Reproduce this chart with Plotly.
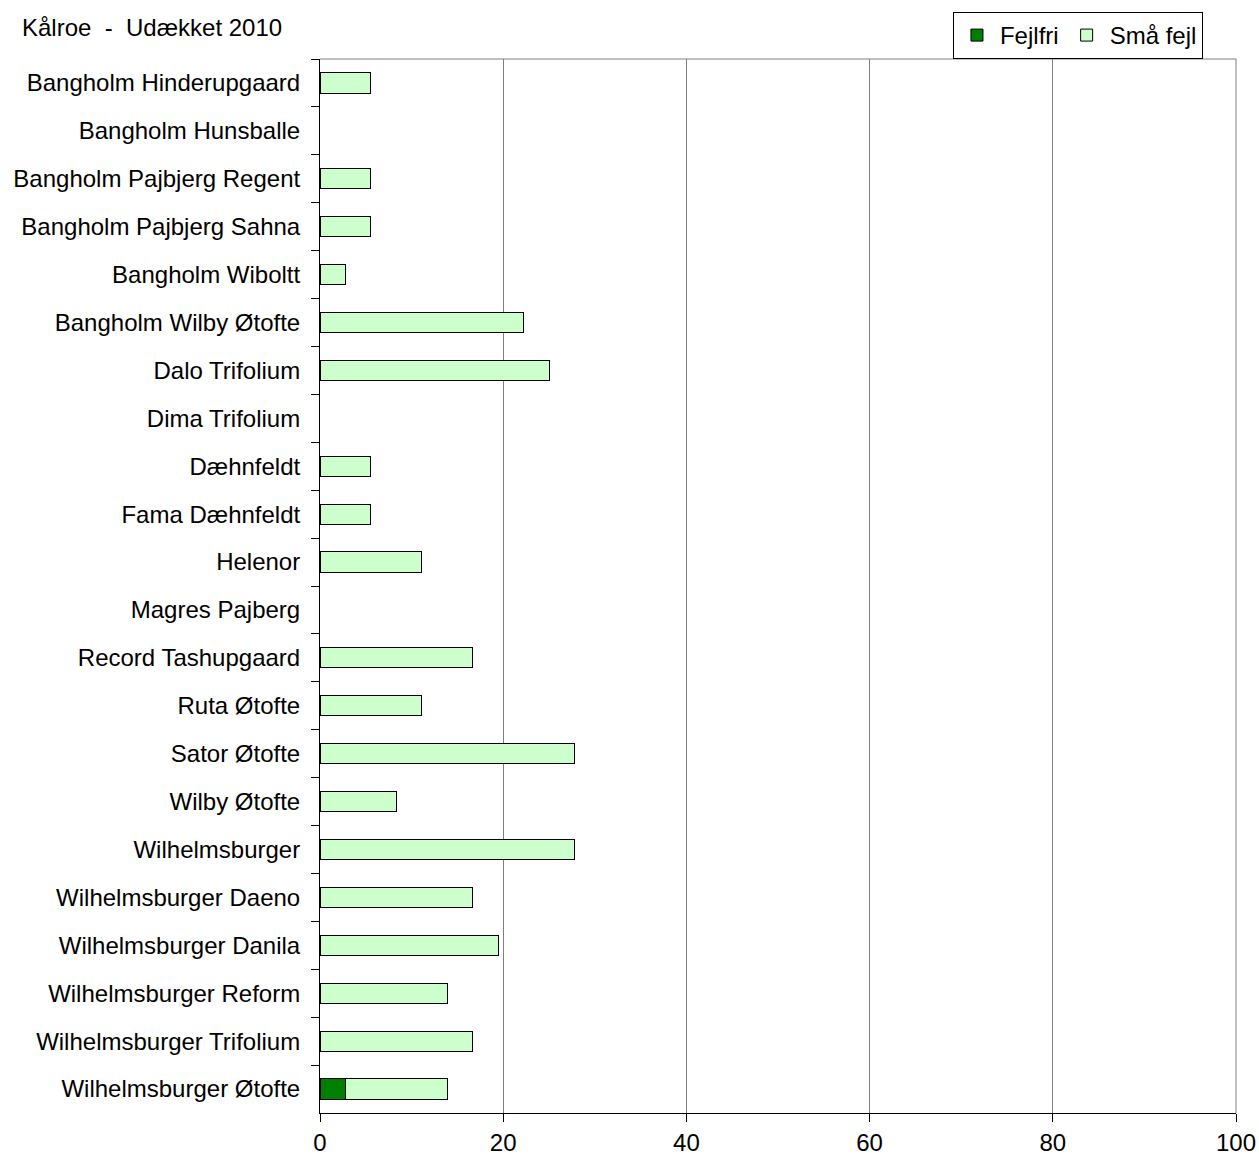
import plotly.graph_objects as go

categories = [
    "Bangholm Hinderupgaard", "Bangholm Hunsballe", "Bangholm Pajbjerg Regent",
    "Bangholm Pajbjerg Sahna", "Bangholm Wiboltt", "Bangholm Wilby Øtofte",
    "Dalo Trifolium", "Dima Trifolium", "Dæhnfeldt", "Fama Dæhnfeldt", "Helenor",
    "Magres Pajberg", "Record Tashupgaard", "Ruta Øtofte", "Sator Øtofte",
    "Wilby Øtofte", "Wilhelmsburger", "Wilhelmsburger Daeno",
    "Wilhelmsburger Danila", "Wilhelmsburger Reform", "Wilhelmsburger Trifolium",
    "Wilhelmsburger Øtofte",
]
fejlfri = [0, 0, 0, 0, 0, 0, 0, 0, 0, 0, 0, 0, 0, 0, 0, 0, 0, 0, 0, 0, 0, 2.78]
smaa_fejl = [5.56, 0, 5.56, 5.56, 2.78, 22.22, 25.0, 0, 5.56, 5.56, 11.11, 0,
             16.67, 11.11, 27.78, 8.33, 27.78, 16.67, 19.44, 13.89, 16.67, 11.11]
x_ticks = [0, 20, 40, 60, 80, 100]

FONT = "Liberation Sans, Arial, sans-serif"


def nz(vals):
    return [v if v else None for v in vals]


fig = go.Figure()
fig.add_trace(go.Bar(
    y=categories, x=nz(fejlfri), name="Fejlfri", orientation="h",
    marker=dict(color="#008000", line=dict(color="black", width=1)),
))
fig.add_trace(go.Bar(
    y=categories, x=nz(smaa_fejl), name="Små fejl", orientation="h",
    marker=dict(color="#CCFFCC", line=dict(color="black", width=1)),
))

fig.update_layout(
    width=1259, height=1162,
    margin=dict(l=320, r=23, t=59, b=49, autoexpand=False),
    barmode="stack", bargap=0.58,
    plot_bgcolor="white", paper_bgcolor="white",
    font=dict(family=FONT, size=24, color="black"),
    title=dict(text="Kålroe  -  Udækket 2010", x=22 / 1259, xanchor="left",
               xref="container", y=1 - 28 / 1162, yanchor="middle",
               yref="container", font=dict(family=FONT, size=24, color="black")),
    showlegend=True,
    legend=dict(orientation="h", x=0.691, xanchor="left", y=1.0446,
                yanchor="top", bgcolor="white", bordercolor="black",
                borderwidth=1, traceorder="normal", itemwidth=36,
                font=dict(family=FONT, size=24, color="black")),
    xaxis=dict(range=[0, 100], tickvals=x_ticks, showgrid=True,
               gridcolor="#808080", gridwidth=1, zeroline=False,
               showline=True, linecolor="black", linewidth=1,
               ticks="outside", ticklen=8, tickcolor="black",
               automargin=False, ticklabelstandoff=0,
               tickfont=dict(family=FONT, size=24, color="black")),
    yaxis=dict(autorange="reversed", type="category", showgrid=False,
               showline=True, linecolor="black", linewidth=1,
               ticks="outside", ticklen=8, tickcolor="black",
               tickson="boundaries", automargin=False,
               ticklabelstandoff=14,
               tickfont=dict(family=FONT, size=24, color="black")),
    shapes=[
        dict(type="line", xref="paper", yref="paper", x0=0, x1=1, y0=1, y1=1,
             line=dict(color="#808080", width=1), layer="above"),
        dict(type="line", xref="paper", yref="paper", x0=1, x1=1, y0=0, y1=1,
             line=dict(color="#808080", width=1), layer="above"),
    ],
)

fig.write_html("out.html")
